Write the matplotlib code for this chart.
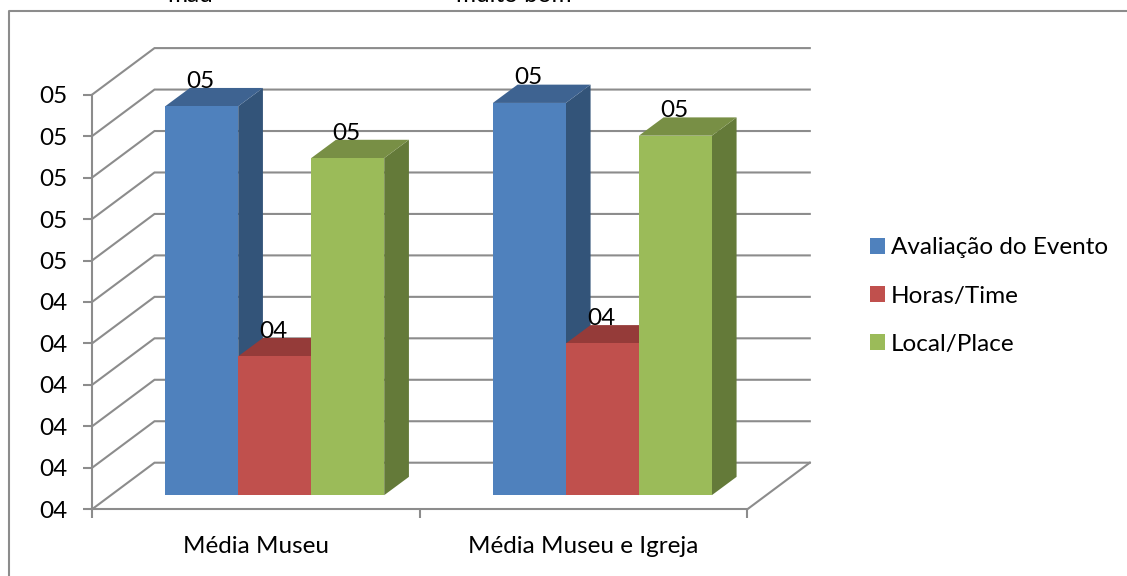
import matplotlib
matplotlib.use("Agg")
import matplotlib.pyplot as plt
from matplotlib.patches import Patch

plt.rcParams['font.family'] = ['Lato', 'DejaVu Sans']

categories = ["Média Museu", "Média Museu e Igreja"]
series_names = ["Avaliação do Evento", "Horas/Time", "Local/Place"]
evento = [4.938, 4.946]
horas = [4.335, 4.366]
local = [4.813, 4.867]
y_ticks = [4.0, 4.1, 4.2, 4.3, 4.4, 4.5, 4.6, 4.7, 4.8, 4.9, 5.0]
y_labels = ["04", "04", "04", "04", "04", "04", "05", "05", "05", "05", "05"]
data_labels = [["05", "05"], ["04", "04"], ["05", "05"]]
front_colors = ["#4F81BD", "#C0504D", "#9BBB59"]
top_colors = ["#3E6391", "#953B39", "#788F45"]
side_colors = ["#335479", "#7F3331", "#647A39"]
GRID = "#8C8C8C"
FS = 17.5

W, H = 1127, 576
fig = plt.figure(figsize=(W / 100, H / 100), dpi=100)
L, R, T, B = 92.0, 747.3, 94.7, 509.3
ax = fig.add_axes([L / W, 1 - B / H, (R - L) / W, (B - T) / H])
ax.set_xlim(0, 2)
ax.set_ylim(4, 5)
ux = (R - L) / 2      # px per category
uy = (B - T)          # px per value unit

# wall / floor depth, bar depth and gaps (expressed in data units)
dx, dy = 62.5 / ux, 46.6 / uy
bar_w = 73.0 / ux
bdx, bdy = 24.7 / ux, 18.3 / uy
gdx, gdy = (dx - bdx) / 2, (dy - bdy) / 2

# axes appearance
for s in ("top", "right"):
    ax.spines[s].set_visible(False)
for s in ("left", "bottom"):
    ax.spines[s].set_color(GRID)
    ax.spines[s].set_linewidth(1.5)
ax.patch.set_visible(False)
ax.set_yticks(y_ticks, y_labels, fontsize=FS)
ax.set_xticks([0, 1, 2], ["", "", ""])
ax.set_xticks([0.5, 1.5], categories, minor=True, fontsize=FS)
ax.tick_params(axis="both", which="major", color=GRID, width=1.5, length=6.5, pad=11)
ax.tick_params(axis="x", which="minor", length=0, pad=19)

# gridlines: side wall + back wall
for v in y_ticks:
    ax.plot([0, dx, 2 + dx], [v, v + dy, v + dy], color=GRID, lw=1.5,
            clip_on=False, zorder=1, solid_joinstyle="miter")
ax.plot([2, 2 + dx], [4, 4 + dy], color=GRID, lw=1.5, clip_on=False, zorder=1)

# bars
z = 3
for c in range(2):
    x0 = c + 0.5 - 1.5 * bar_w + gdx
    for i, vals in enumerate([evento, horas, local]):
        xa = x0 + i * bar_w
        xb = xa + bar_w
        y0 = 4 + gdy
        y1 = vals[c] + gdy
        ax.fill([xb, xb + bdx, xb + bdx, xb], [y0, y0 + bdy, y1 + bdy, y1],
                color=side_colors[i], lw=0, clip_on=False, zorder=z)
        ax.fill([xa, xb, xb + bdx, xa + bdx], [y1, y1, y1 + bdy, y1 + bdy],
                color=top_colors[i], lw=0, clip_on=False, zorder=z)
        ax.fill([xa, xb, xb, xa], [y0, y0, y1, y1],
                color=front_colors[i], lw=0, clip_on=False, zorder=z + 0.5)
        ax.annotate(data_labels[i][c], xy=((xa + xb) / 2, y1), xytext=(-1, 18),
                    textcoords="offset points", ha="center", va="center",
                    fontsize=FS, color="black", zorder=20, annotation_clip=False)
        z += 1

# legend
handles = [Patch(facecolor=col, edgecolor="none") for col in front_colors]
fig.legend(handles, series_names, loc="center left",
           bbox_to_anchor=(870 / W, 1 - 296 / H), frameon=False, fontsize=FS,
           handlelength=0.62, handleheight=0.62, handletextpad=0.25,
           labelspacing=1.12, borderpad=0, borderaxespad=0)

# outer frame (only top and left edges are visible in the crop)
fig.add_artist(plt.Line2D([8.5 / W, 8.5 / W, 1], [0, 1 - 10.5 / H, 1 - 10.5 / H],
                          color=GRID, lw=1.5, transform=fig.transFigure))

# cut-off text above the frame
fig.text(190 / W, 1 - 2.5 / H, "mau", ha="center", va="baseline", fontsize=FS, clip_on=False)
fig.text(514 / W, 1 - 2.5 / H, "muito bom", ha="center", va="baseline", fontsize=FS, clip_on=False)

fig.savefig("out.png", dpi=100)
